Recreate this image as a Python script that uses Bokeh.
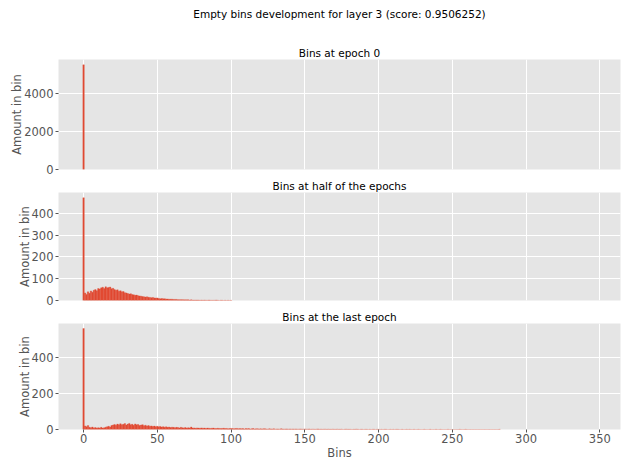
from bokeh.plotting import figure
from bokeh.layouts import column
from bokeh.models import Title, Range1d, FixedTicker, ColumnDataSource
from bokeh.embed import file_html
from bokeh.resources import INLINE

# Counts per bin index (index 0 = empty bins)
epoch0_counts = [5520]

half_counts = [
    472,
    35, 28, 40, 33, 44, 38, 47, 50, 45, 55,
    53, 58, 61, 55, 63, 58, 60, 62, 54, 56,
    50, 47, 49, 43, 45, 40, 41, 36, 35, 32,
    30, 31, 27, 26, 24, 25, 22, 21, 20, 18,
    17, 16, 17, 15, 14, 13, 14, 12, 11, 12,
    9, 8, 9, 8, 8, 7, 7, 6, 6, 6,
    5, 5, 5, 4, 4, 4, 4, 3, 3, 3,
    3, 2, 3, 2, 2, 2, 2, 2, 1, 2,
    1, 2, 1, 1, 2, 1, 1, 1, 1, 2,
    1, 0, 1, 1, 0, 1, 0, 1, 0, 1,
]

last_counts = [
    562,
    20, 16, 22, 12, 10, 14, 9, 11, 8, 10,
    9, 12, 8, 10, 13, 15, 18, 14, 22, 25,
    28, 24, 30, 26, 32, 27, 29, 33, 25, 30,
    34, 27, 29, 24, 31, 26, 28, 22, 25, 27,
    21, 24, 19, 22, 18, 20, 17, 19, 16, 18,
    15, 17, 14, 16, 13, 15, 12, 14, 11, 13,
    12, 10, 12, 11, 9, 12, 10, 9, 11, 8,
    10, 9, 14, 8, 9, 7, 9, 8, 7, 9,
    7, 8, 6, 8, 7, 6, 7, 8, 6, 5,
    7, 6, 5, 6, 7, 5, 6, 4, 5, 6,
    5, 4, 5, 6, 4, 5, 4, 5, 3, 5,
    4, 5, 3, 4, 5, 3, 4, 4, 3, 4,
    3, 4, 4, 3, 2, 4, 3, 3, 4, 2,
    3, 3, 2, 4, 3, 2, 3, 3, 2, 3,
    2, 3, 2, 3, 2, 2, 3, 2, 2, 3,
    2, 2, 3, 1, 2, 2, 1, 2, 3, 1,
    2, 1, 2, 2, 1, 2, 1, 1, 2, 1,
    1, 2, 1, 1, 2, 0, 1, 2, 1, 1,
    1, 0, 1, 1, 2, 1, 0, 1, 1, 0,
    1, 1, 0, 1, 0, 1, 1, 0, 1, 1,
    0, 1, 0, 1, 1, 0, 0, 1, 0, 1,
    0, 1, 1, 0, 0, 1, 0, 0, 1, 0,
    1, 0, 0, 1, 0, 0, 1, 0, 0, 0,
    1, 0, 0, 0, 1, 0, 0, 0, 1, 0,
    0, 1, 0, 0, 0, 0, 1, 0, 0, 0,
    0, 0, 0, 0, 1, 0, 0, 0, 1, 0,
    0, 0, 0, 0, 0, 0, 0, 0, 0, 0,
    0, 0, 0, 0, 0, 0, 0, 0, 0, 0,
    0, 1,
]

x_ticks = [0, 50, 100, 150, 200, 250, 300, 350]
y_ticks_epoch0 = [0, 2000, 4000]
y_ticks_half = [0, 100, 200, 300, 400]
y_ticks_last = [0, 200, 400]

FONT = "DejaVu Sans"
BAR = "#E24A33"
BG = "#E5E5E5"
TICK = "#555555"


def make_title(text):
    return Title(text=text, align="center", text_font=FONT,
                 text_font_size="10.5px", text_font_style="normal",
                 text_color="black", standoff=2)


def panel(title, counts, y_max, y_ticks, top, frame_h, bottom, show_x):
    p = figure(frame_width=562, frame_height=frame_h,
               x_range=Range1d(-17, 364), y_range=Range1d(0, y_max),
               output_backend="svg", toolbar_location=None,
               min_border_left=58, min_border_right=1,
               min_border_top=top, min_border_bottom=bottom)
    p.add_layout(make_title(title), "above")
    p.background_fill_color = BG
    p.border_fill_color = "white"
    p.outline_line_color = None

    src = ColumnDataSource(dict(x=list(range(len(counts))), top=counts))
    p.vbar(x="x", top="top", width=1.0, source=src,
           fill_color=BAR, line_color=BAR, line_width=0.3)

    p.xgrid.grid_line_color = "white"
    p.ygrid.grid_line_color = "white"
    p.xgrid.grid_line_width = 1
    p.ygrid.grid_line_width = 1

    p.xaxis.ticker = FixedTicker(ticks=x_ticks)
    p.yaxis.ticker = FixedTicker(ticks=y_ticks)
    for ax in (p.xaxis, p.yaxis):
        ax.axis_line_color = None
        ax.major_tick_line_color = TICK
        ax.major_tick_out = 3
        ax.major_tick_in = 0
        ax.minor_tick_line_color = None
        ax.major_label_text_font = FONT
        ax.major_label_text_font_size = "11.5px"
        ax.major_label_text_color = TICK
        ax.axis_label_text_font = FONT
        ax.axis_label_text_font_size = "11.5px"
        ax.axis_label_text_font_style = "normal"
        ax.axis_label_text_color = TICK
    p.yaxis.axis_label = "Amount in bin"
    p.yaxis.major_label_standoff = 2
    p.yaxis.axis_label_standoff = -3
    if show_x:
        p.xaxis.axis_label = "Bins"
        p.xaxis.major_label_standoff = 1
        p.xaxis.axis_label_standoff = 0
    else:
        p.xaxis.visible = False
    return p


# Strip holding the overall heading above the three panels
header = figure(frame_width=562, frame_height=1,
                x_range=Range1d(0, 1), y_range=Range1d(0, 1),
                output_backend="svg", toolbar_location=None,
                min_border_left=58, min_border_right=1,
                min_border_top=20, min_border_bottom=15)
header.add_layout(make_title("Empty bins development for layer 3 (score: 0.9506252)"), "above")
header.axis.visible = False
header.grid.visible = False
header.outline_line_color = None
header.background_fill_color = "white"
header.border_fill_color = "white"

p1 = panel("Bins at epoch 0", epoch0_counts, 5800, y_ticks_epoch0, 23, 110, 7, False)
p2 = panel("Bins at half of the epochs", half_counts, 496, y_ticks_half, 16, 108, 7, False)
p3 = panel("Bins at the last epoch", last_counts, 590, y_ticks_last, 16, 106, 29, True)

layout = column(header, p1, p2, p3, spacing=0)

open("out.html", "w").write(file_html(layout, INLINE))
